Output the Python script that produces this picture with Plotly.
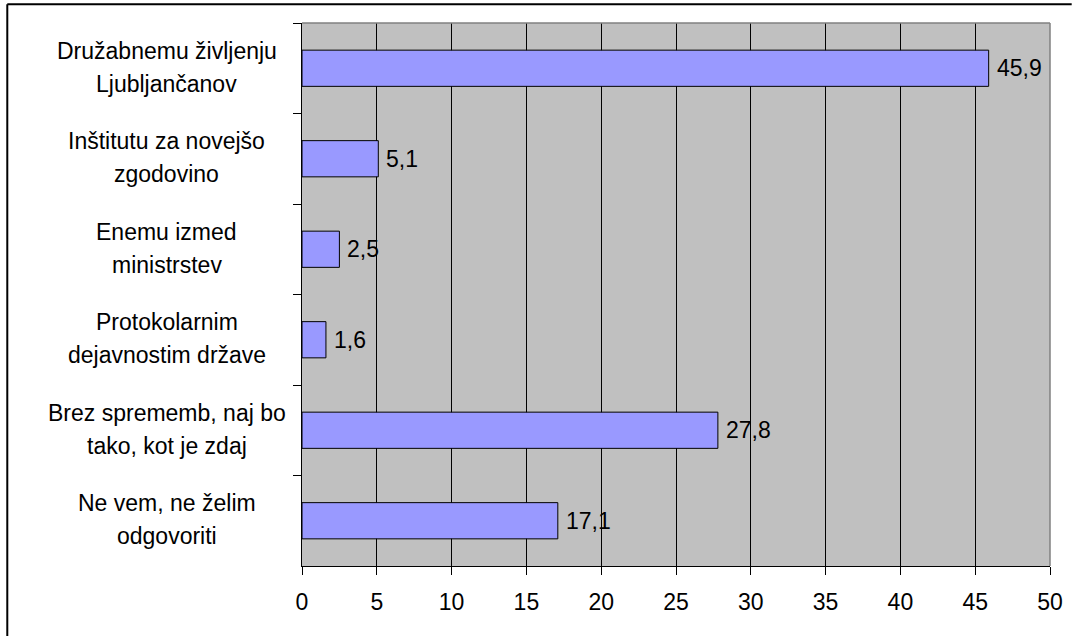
import plotly.graph_objects as go

categories = [
    "Družabnemu življenju<br>Ljubljančanov",
    "Inštitutu za novejšo<br>zgodovino",
    "Enemu izmed<br>ministrstev",
    "Protokolarnim<br>dejavnostim države",
    "Brez sprememb, naj bo<br>tako, kot je zdaj",
    "Ne vem, ne želim<br>odgovoriti",
]
values = [45.9, 5.1, 2.5, 1.6, 27.8, 17.1]
x_ticks = [0, 5, 10, 15, 20, 25, 30, 35, 40, 45, 50]

FONT = "Liberation Sans, Arial, sans-serif"
FS = 23

fig = go.Figure()
fig.add_trace(go.Bar(
    x=values, y=categories, orientation="h", width=0.4,
    marker=dict(color="#9999FF", line=dict(color="#000000", width=1)),
    hoverinfo="skip",
))

annotations = []
for c, v in zip(categories, values):
    annotations.append(dict(
        x=v, y=c, xref="x", yref="y", text=f"{v:.1f}".replace(".", ","),
        showarrow=False, xanchor="left", yanchor="middle", xshift=6,
        font=dict(family=FONT, size=FS, color="#000000"),
    ))
    lines = c.split("<br>")
    for i, line in enumerate(lines):
        shift = (len(lines) - 1) / 2 * 33 - i * 33
        annotations.append(dict(
            x=-0.181, y=c, xref="paper", yref="y", text=line,
            showarrow=False, xanchor="center", yanchor="middle", align="center",
            yshift=shift + 1,
            font=dict(family=FONT, size=FS, color="#000000"),
        ))

shapes = [
    dict(type="line", xref="paper", yref="paper", x0=0, x1=1, y0=1, y1=1,
         line=dict(color="#808080", width=1.5)),
    dict(type="line", xref="paper", yref="paper", x0=1, x1=1, y0=0, y1=1,
         line=dict(color="#808080", width=1.5)),
    dict(type="line", xref="paper", yref="paper", x0=-0.394, x1=-0.394, y0=-0.2, y1=1.0344,
         line=dict(color="#000000", width=2)),
    dict(type="line", xref="paper", yref="paper", x0=-0.394, x1=1.029, y0=1.0344, y1=1.0344,
         line=dict(color="#000000", width=2)),
]

fig.update_layout(
    width=1075, height=636,
    margin=dict(l=302, r=22, t=23, b=70),
    paper_bgcolor="#FFFFFF", plot_bgcolor="#C0C0C0",
    showlegend=False,
    annotations=annotations,
    shapes=shapes,
    font=dict(family=FONT, size=FS, color="#000000"),
)
fig.update_xaxes(
    range=[0, 50], tickvals=x_ticks, ticktext=[str(t) for t in x_ticks],
    showgrid=True, gridcolor="#000000", gridwidth=1,
    zeroline=False, showline=True, linecolor="#000000", linewidth=1,
    ticks="outside", ticklen=8, tickcolor="#000000", tickwidth=1,
    ticklabelstandoff=7,
    tickfont=dict(family=FONT, size=FS, color="#000000"),
    fixedrange=True,
)
fig.update_yaxes(
    autorange="reversed", type="category",
    showgrid=False, zeroline=False, showline=True, linecolor="#000000", linewidth=1,
    ticks="outside", tickson="boundaries", ticklen=8, tickcolor="#000000", tickwidth=1,
    showticklabels=False, fixedrange=True,
)

fig.write_html(
    "out.html",
    config={"displayModeBar": False},
    post_script="document.body.style.margin='0px';document.body.style.overflow='hidden';",
)
